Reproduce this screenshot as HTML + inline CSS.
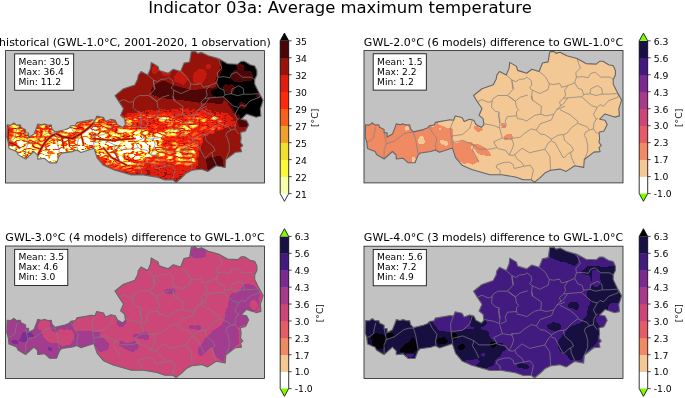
<!DOCTYPE html>
<html><head><meta charset="utf-8"><title>Indicator 03a</title>
<style>html,body{margin:0;padding:0;background:#fff;}svg{display:block}</style>
</head><body>
<svg width="685" height="398" viewBox="0 0 685 398" font-family="'DejaVu Sans','Liberation Sans',sans-serif" fill="#000">
<defs>
<path id="aut" d="M1.6 74.3 L5.3 74.6 L8.4 72.3 L11.1 74.6 L14.8 74.3 L15.6 76.8 L20.1 79.1 L20.1 82.1 L23.1 82.4 L23.1 86.6 L28.4 83.6 L31.4 76.1 L32.2 73.4 L36.0 74.3 L39.0 73.4 L42.7 74.6 L45.7 74.3 L46.5 78.3 L49.5 81.4 L59.3 79.1 L63.8 77.3 L65.3 75.3 L69.9 74.6 L71.4 71.9 L86.0 69.3 L89.5 69.8 L91.2 65.5 L98.0 67.0 L100.2 70.9 L105.5 68.7 L109.8 69.8 L112.0 74.1 L117.3 76.9 L119.9 74.1 L119.1 68.2 L115.1 64.8 L118.0 58.0 L113.4 51.2 L109.5 45.0 L118.0 38.2 L129.3 34.3 L132.2 28.5 L132.7 24.9 L135.5 21.0 L142.3 24.4 L145.1 17.6 L145.7 11.9 L152.5 15.9 L153.6 19.9 L162.7 22.7 L167.8 18.7 L175.1 21.0 L178.5 12.5 L184.1 11.4 L185.8 1.2 L189.8 0.9 L192.1 2.9 L196.0 1.8 L202.8 5.2 L213.0 8.0 L222.0 13.1 L232.2 13.6 L235.6 10.8 L239.0 10.8 L244.6 14.2 L249.2 15.3 L251.4 19.9 L251.4 24.4 L249.2 28.9 L249.2 33.4 L252.5 40.2 L254.8 44.5 L257.6 49.6 L256.0 54.7 L254.8 58.1 L255.4 65.4 L250.6 66.6 L241.0 63.4 L235.7 68.7 L241.0 69.8 L243.2 74.1 L240.0 80.5 L235.0 81.8 L235.6 87.5 L235.0 92.0 L237.3 94.9 L235.0 97.1 L236.1 101.1 L229.9 101.6 L220.3 109.0 L219.7 116.9 L210.7 115.2 L202.2 120.9 L196.0 118.6 L186.4 119.7 L180.8 122.6 L176.2 127.1 L170.6 131.6 L167.2 129.3 L159.3 129.3 L151.4 126.5 L137.8 124.3 L125.9 124.3 L107.7 119.0 L98.0 114.7 L91.6 107.2 L88.4 97.6 L75.5 101.8 L71.4 99.5 L66.9 101.0 L56.3 102.5 L54.0 104.7 L51.0 112.3 L44.2 112.3 L39.0 107.7 L32.2 108.5 L32.2 104.7 L28.4 101.0 L20.1 108.5 L12.6 104.0 L11.1 101.0 L3.5 97.9 L2.8 91.9 L1.3 86.6 Z"/>
<path id="dl" d="M11.8 76.8 L10.3 82.1 L9.6 87.4 L5.8 90.4 L2.8 91.2 M20.1 82.1 L22.4 93.4 L20.1 98.7 L20.1 107.7 M22.4 93.4 L30.7 90.4 L39.7 83.6 L44.2 82.1 L49.5 81.8 M49.5 81.8 L51.8 89.7 L54.0 103.2 M65.3 76.1 L68.4 82.1 L72.9 88.1 L71.4 95.7 L72.1 99.5 M89.5 69.8 L86.5 77.5 L87.1 85.6 L88.8 97.1 M87.1 85.6 L98.6 84.0 L105.9 77.5 L108.4 69.3 M88.8 92.2 L98.6 89.7 L110.0 94.6 L114.9 98.7 L126.3 98.7 L132.9 97.1 L134.4 98.2 L141.7 99.9 L145.1 104.5 M110.0 94.6 L108.4 99.5 L112.0 105.5 L114.9 111.8 M120.6 73.4 L129.6 75.0 L135.5 77.3 L138.3 87.5 L129.6 91.4 L132.9 97.1 M135.5 62.3 L134.4 64.9 L136.1 70.5 L135.5 77.3 M138.3 87.5 L147.6 88.9 L149.1 87.5 M144.6 45.6 L151.4 50.7 L156.4 46.7 L163.8 44.5 M151.4 50.7 L152.5 56.9 L154.7 59.2 L152.5 61.5 L152.5 65.4 L153.6 68.2 L158.1 68.8 L162.7 70.5 L170.6 64.9 L176.8 63.7 M167.2 45.6 L168.3 49.6 L177.4 55.8 L176.8 63.7 M176.8 63.7 L181.9 65.4 L189.8 63.7 L192.6 59.2 L201.0 55.8 M189.8 63.7 L187.5 69.4 L176.2 73.3 L172.3 79.6 L167.2 78.4 L160.4 82.9 L155.9 86.9 L149.1 87.5 L147.4 87.5 L149.7 93.7 L148.0 98.8 L145.1 104.5 M172.3 79.6 L176.2 83.5 L180.8 84.1 L187.5 88.6 L194.3 84.6 L199.4 84.1 M152.5 65.4 L143.4 66.0 L141.2 70.5 L142.3 75.0 L137.0 77.5 M195.5 51.3 L196.6 55.2 L192.6 59.2 M195.5 51.3 L199.4 47.9 L203.9 47.3 L217.5 46.2 L219.7 44.5 M203.9 47.3 L199.4 53.5 L196.0 55.8 M217.5 46.2 L227.7 55.2 L233.3 56.9 L236.1 54.1 L239.5 55.8 L244.6 50.2 L253.7 46.8 L254.8 44.5 L252.5 43.0 M233.3 56.9 L229.4 63.7 L232.2 68.8 L233.9 67.7 M232.2 68.8 L229.9 72.8 L229.4 78.4 L233.3 83.5 M196.0 59.2 L206.2 64.3 L214.1 71.1 L213.5 72.8 L223.1 76.2 L225.4 79.6 L229.4 78.4 M213.5 72.8 L207.3 77.3 L202.8 82.9 L199.4 84.1 L200.5 89.5 L202.8 92.0 L207.3 95.4 L209.6 99.9 L206.7 101.6 L207.3 106.7 L210.7 114.1 M225.4 79.6 L221.4 81.8 L220.3 85.2 L222.0 87.5 L223.7 94.3 L223.7 101.1 L220.3 109.0 M145.1 104.5 L149.1 105.0 L150.8 103.9 L158.1 97.7 L165.5 102.2 L180.8 98.8 L184.1 92.6 L187.5 89.8 L187.5 88.6 M150.8 103.9 L152.5 107.9 L158.1 112.4 L159.8 115.8 L150.2 118.0 L149.1 114.1 L145.7 111.8 L140.6 111.8 L133.3 114.1 L132.1 116.9 L136.1 119.7 L136.1 123.7 M159.8 115.8 L166.1 114.6 L169.4 119.2 L168.3 124.8 L167.2 129.3 M180.8 98.8 L185.8 105.6 L186.4 114.6 L186.4 119.7 M187.5 90.9 L190.9 92.0 L198.9 106.7 L200.0 107.3 L203.9 103.3 L206.7 101.6 M142.3 24.4 L148.0 29.5 L148.5 37.9 L149.6 38.2 M148.0 29.5 L151.9 31.2 L155.3 28.9 L161.0 28.3 L162.7 26.6 L167.2 30.0 L167.8 34.6 L165.5 37.4 L168.3 39.6 L167.7 45.0 L168.9 50.1 M168.3 39.6 L175.7 43.0 L184.1 39.1 L185.3 33.4 L181.3 26.1 L175.1 21.0 M185.3 33.4 L189.8 34.0 L195.5 32.9 L197.7 36.8 L203.9 35.1 M213.0 8.0 L214.7 13.1 L216.4 17.6 L211.8 22.1 L212.4 26.6 L210.7 32.3 L203.9 35.1 M212.4 26.6 L218.6 26.1 L224.3 27.2 L226.5 23.2 L231.1 21.6 L236.7 26.6 L245.8 26.6 L249.2 28.9 M210.7 32.3 L214.1 37.9 L218.1 39.1 L219.7 44.5 M203.9 35.1 L200.5 40.2 L201.7 44.5 L199.4 47.9 M219.7 43.9 L226.0 43.3 L226.5 38.5 L233.3 35.1 L237.8 37.9 L238.4 43.6 L245.8 43.6 L252.5 43.0 M226.0 43.3 L232.0 45.0 L238.4 43.6 M113.4 51.2 L118.0 49.0 L124.2 51.8 L128.1 50.7 M128.1 50.7 L129.3 47.9 L133.8 45.0 L143.4 45.0 L149.6 38.2 L147.9 30.9 L148.0 29.5 M128.1 50.7 L127.6 56.9 L131.5 60.9 L134.9 61.5 L134.9 64.8 L135.5 72.5 M143.4 45.0 L151.4 50.7"/>
<clipPath id="autc"><use href="#aut"/></clipPath>
<filter id="terr" x="0" y="0" width="100%" height="100%" filterUnits="objectBoundingBox" color-interpolation-filters="sRGB">
<feGaussianBlur in="SourceGraphic" stdDeviation="1.8" result="base"/>
<feComponentTransfer in="base" result="c2"><feFuncR type="linear" slope="1" intercept="-0.25"/><feFuncG type="linear" slope="1" intercept="-0.25"/><feFuncB type="linear" slope="1" intercept="-0.25"/></feComponentTransfer>
<feTurbulence type="turbulence" baseFrequency="0.12 0.24" numOctaves="2" seed="7" result="t"/>
<feColorMatrix in="t" type="matrix" values="1 0 0 0 0  1 0 0 0 0  1 0 0 0 0  0 0 0 0 1" result="n"/>
<feComposite in="c2" in2="n" operator="arithmetic" k1="4.2" k2="-1.092" k3="0" k4="0.5" result="d"/>
<feComposite in="base" in2="d" operator="arithmetic" k1="0" k2="1" k3="1" k4="-0.5" result="f"/>
<feComponentTransfer in="f">
<feFuncR type="discrete" tableValues="0.000 0.310 0.588 0.878 1.000 0.969 0.941 0.937 0.973 0.969 1.000"/>
<feFuncG type="discrete" tableValues="0.000 0.024 0.078 0.118 0.165 0.376 0.627 0.878 0.973 0.992 1.000"/>
<feFuncB type="discrete" tableValues="0.000 0.024 0.047 0.063 0.047 0.102 0.173 0.188 0.235 0.667 1.000"/>
</feComponentTransfer>
</filter>
<filter id="blob" x="-5%" y="-5%" width="110%" height="110%" color-interpolation-filters="sRGB">
<feTurbulence type="fractalNoise" baseFrequency="0.12" numOctaves="2" seed="3" result="t"/>
<feDisplacementMap in="SourceGraphic" in2="t" scale="5" xChannelSelector="R" yChannelSelector="G" result="d"/>
<feGaussianBlur in="d" stdDeviation="0.9" result="b"/>
<feComponentTransfer in="b"><feFuncA type="discrete" tableValues="0 1"/></feComponentTransfer>
</filter>
</defs>
<rect width="685" height="398" fill="#fff"/>
<text x="340" y="12.9" text-anchor="middle" font-size="16.45">Indicator 03a: Average maximum temperature</text>
<g transform="translate(5.5 50.6)">
<rect x="0" y="0" width="259.0" height="132.4" fill="#c2c2c2"/>
<g clip-path="url(#autc)"><g filter="url(#terr)" transform="translate(-5.5 -50.6)"><rect x="0" y="40" width="275" height="150" fill="#000"/><rect x="0" y="40" width="275" height="150" fill="#3a3a3a"/>
<path d="M152 86 L163 80 L176 86 L192 90 L210 88 L222 92 L224 104 L200 103 L180 100 L160 98 L150 94 Z" fill="#232323" />
<path d="M220 56 L221 70 L216 80 L218 87 L210 90 L212 96 L225 98 L232 108 L235 114 L243 120 L250 124 L270 122 L270 50 L219 50 Z" fill="#0c0c0c" />
<path d="M236 118 L252 118 L254 130 L240 130 Z" fill="#1a1a1a" />
<path d="M100 118 L118 116 L130 112 L150 110 L175 108 L205 108 L228 113 L238 124 L224 134 L208 138 L202 150 L198 166 L180 176 L150 178 L120 172 L90 168 L100 140 Z" fill="#4c4c4c" />
<path d="M100 122 L120 121 L135 118 L160 115 L190 114 L214 117 L228 124 L214 132 L202 137 L198 150 L192 164 L172 170 L150 168 L128 168 L100 166 Z" fill="#6b6b6b" />
<path d="M0 118 L60 118 L100 116 L118 120 L130 126 L150 130 L150 160 L120 164 L100 160 L60 172 L0 166 Z" fill="#8d8d8d" />
<path d="M14 118 L100 116 L94 122 L88.5 128 L81 133.7 L72.4 138.5 L62 136.6 L56 133.7 L50.5 136.6 L45.8 141.3 L40 141 L30 136 L20 132 L14 130 Z" fill="#898989" />
<path d="M44 124 L60 121 L78 123 L70 130 L52 132 Z" fill="#b9b9b9" />
<path d="M20 124 L34 124 L38 132 L26 134 Z" fill="#a9a9a9" />
<path d="M38 154.6 L42 147 L45.8 141.3 L50.5 136.6 L56 133.7 L62 136.6 L72.4 138.5 L81 133.7 L88.5 128 L94 126 L100 128 L104 140 L100 150 L90 150 L80 152 L66 168 L40 168 L30 160 Z" fill="#d3d3d3" />
<path d="M24 152 L40 150 L50 146 L58 150 L60 164 L40 166 L26 160 Z" fill="#f3f3f3" />
<path d="M60 142 L80 141 L92 138 L96 146 L80 150 L64 150 Z" fill="#eaeaea" />
<path d="M4 122 L12 122 L14 140 L8 146 L4 140 Z" fill="#686868" />
<path d="M14 140 L24 140 L34 146 L38 154 L30 160 L22 160 L12 152 Z" fill="#cacaca" />
<path d="M94 122 L118 120 L135 124 L150 128 L150 138 L120 138 L100 138 Z" fill="#8d8d8d" />
<path d="M96 140 L112 139 L128 138 L146 136 L160 136 L162 146 L154 154 L140 160 L128 164 L112 162 L100 156 L94 148 Z" fill="#f1f1f1" />
<path d="M108 164 L128 166 L142 162 L152 158 L152 172 L128 172 L112 168 Z" fill="#727272" />
<path d="M122 121 L141 116 L163 118.5 L184 123 L205 119 L220 117" fill="none" stroke="#a9a9a9" stroke-width="3" stroke-linecap="round" stroke-linejoin="round"/>
<path d="M120 133 L141 135.5 L163 134.5 L180 131 L195 127" fill="none" stroke="#b2b2b2" stroke-width="3" stroke-linecap="round" stroke-linejoin="round"/>
<path d="M175.5 144 L178 152 L180 161" fill="none" stroke="#b9b9b9" stroke-width="3" stroke-linecap="round" stroke-linejoin="round"/>
<path d="M190 142 L192 152 L192.6 163" fill="none" stroke="#a2a2a2" stroke-width="3" stroke-linecap="round" stroke-linejoin="round"/>
<path d="M150 150 L160 154 L170 158" fill="none" stroke="#a2a2a2" stroke-width="4" stroke-linecap="round" stroke-linejoin="round"/>
<path d="M204 136 L226 128 L250 126 L250 150 L240 166 L226 172 L202 172 L198 158 Z" fill="#3a3a3a" />
<path d="M206 158 L222 156 L224 170 L208 172 Z" fill="#1e1e1e" />
<path d="M226 132 L246 128 L246 140 L228 142 Z" fill="#2e2e2e" />
<path d="M140 168 L160 163 L185 165 L200 170 L196 182 L160 182 L138 176 Z" fill="#4c4c4c" />
<path d="M100 150 L115 153 L130 159 L150 165" fill="none" stroke="#5d5d5d" stroke-width="2.5" stroke-linecap="round" stroke-linejoin="round"/>
<path d="M104 132 L120 128 L135 126 L150 125 L165 127 L180 127" fill="none" stroke="#585858" stroke-width="2.5" stroke-linecap="round" stroke-linejoin="round"/>
<path d="M150 143 L165 142 L180 139 L195 135 L210 130" fill="none" stroke="#515151" stroke-width="2.5" stroke-linecap="round" stroke-linejoin="round"/></g><g transform="translate(-5.5 -50.6)"><path d="M94.2 122.3 L88.5 128 L80.9 133.7 L72.4 138.5 L61.9 136.6 L56.2 133.7 L50.5 136.6 L45.8 141.3 L42 147 L38.2 154.6" fill="none" stroke="#f7601a" stroke-width="3.6" stroke-linecap="round" stroke-linejoin="round" opacity="0.45"/>
<path d="M8.8 129 L7.8 141.3" fill="none" stroke="#f7601a" stroke-width="2.8800000000000003" stroke-linecap="round" stroke-linejoin="round" opacity="0.45"/>
<path d="M8.8 142.3 L16.4 145.1 L19.2 148" fill="none" stroke="#f7601a" stroke-width="2.8800000000000003" stroke-linecap="round" stroke-linejoin="round" opacity="0.45"/>
<path d="M61.9 137.5 L63.8 148" fill="none" stroke="#f7601a" stroke-width="2.16" stroke-linecap="round" stroke-linejoin="round" opacity="0.45"/>
<path d="M68.6 138.5 L69.5 146" fill="none" stroke="#f7601a" stroke-width="2.16" stroke-linecap="round" stroke-linejoin="round" opacity="0.45"/>
<path d="M80.9 133.7 L83.7 145.1" fill="none" stroke="#f7601a" stroke-width="2.16" stroke-linecap="round" stroke-linejoin="round" opacity="0.45"/>
<path d="M103.7 148 L111.3 157.4 L126.4 165" fill="none" stroke="#f7601a" stroke-width="2.8800000000000003" stroke-linecap="round" stroke-linejoin="round" opacity="0.45"/>
<path d="M114 150.8 L118.9 160.3" fill="none" stroke="#f7601a" stroke-width="2.16" stroke-linecap="round" stroke-linejoin="round" opacity="0.45"/>
<path d="M93.2 138.5 L111.3 140.4 L135 138.5" fill="none" stroke="#f7601a" stroke-width="2.52" stroke-linecap="round" stroke-linejoin="round" opacity="0.45"/>
<path d="M94.2 122.3 L88.5 128 L80.9 133.7 L72.4 138.5 L61.9 136.6 L56.2 133.7 L50.5 136.6 L45.8 141.3 L42 147 L38.2 154.6" fill="none" stroke="#e01e10" stroke-width="2.2" stroke-linecap="round" stroke-linejoin="round" opacity="0.85"/>
<path d="M8.8 129 L7.8 141.3" fill="none" stroke="#e01e10" stroke-width="1.7600000000000002" stroke-linecap="round" stroke-linejoin="round" opacity="0.85"/>
<path d="M8.8 142.3 L16.4 145.1 L19.2 148" fill="none" stroke="#e01e10" stroke-width="1.7600000000000002" stroke-linecap="round" stroke-linejoin="round" opacity="0.85"/>
<path d="M61.9 137.5 L63.8 148" fill="none" stroke="#e01e10" stroke-width="1.32" stroke-linecap="round" stroke-linejoin="round" opacity="0.85"/>
<path d="M68.6 138.5 L69.5 146" fill="none" stroke="#e01e10" stroke-width="1.32" stroke-linecap="round" stroke-linejoin="round" opacity="0.85"/>
<path d="M80.9 133.7 L83.7 145.1" fill="none" stroke="#e01e10" stroke-width="1.32" stroke-linecap="round" stroke-linejoin="round" opacity="0.85"/>
<path d="M103.7 148 L111.3 157.4 L126.4 165" fill="none" stroke="#e01e10" stroke-width="1.7600000000000002" stroke-linecap="round" stroke-linejoin="round" opacity="0.85"/>
<path d="M114 150.8 L118.9 160.3" fill="none" stroke="#e01e10" stroke-width="1.32" stroke-linecap="round" stroke-linejoin="round" opacity="0.85"/>
<path d="M93.2 138.5 L111.3 140.4 L135 138.5" fill="none" stroke="#e01e10" stroke-width="1.54" stroke-linecap="round" stroke-linejoin="round" opacity="0.85"/>
<path d="M94.2 122.3 L88.5 128 L80.9 133.7 L72.4 138.5 L61.9 136.6 L56.2 133.7 L50.5 136.6 L45.8 141.3 L42 147 L38.2 154.6" fill="none" stroke="#7a0e08" stroke-width="1.1" stroke-linecap="round" stroke-linejoin="round" opacity="1"/>
<path d="M8.8 129 L7.8 141.3" fill="none" stroke="#7a0e08" stroke-width="0.8800000000000001" stroke-linecap="round" stroke-linejoin="round" opacity="1"/>
<path d="M8.8 142.3 L16.4 145.1 L19.2 148" fill="none" stroke="#7a0e08" stroke-width="0.8800000000000001" stroke-linecap="round" stroke-linejoin="round" opacity="1"/>
<path d="M61.9 137.5 L63.8 148" fill="none" stroke="#7a0e08" stroke-width="0.66" stroke-linecap="round" stroke-linejoin="round" opacity="1"/>
<path d="M68.6 138.5 L69.5 146" fill="none" stroke="#7a0e08" stroke-width="0.66" stroke-linecap="round" stroke-linejoin="round" opacity="1"/>
<path d="M80.9 133.7 L83.7 145.1" fill="none" stroke="#7a0e08" stroke-width="0.66" stroke-linecap="round" stroke-linejoin="round" opacity="1"/>
<path d="M103.7 148 L111.3 157.4 L126.4 165" fill="none" stroke="#7a0e08" stroke-width="0.8800000000000001" stroke-linecap="round" stroke-linejoin="round" opacity="1"/>
<path d="M114 150.8 L118.9 160.3" fill="none" stroke="#7a0e08" stroke-width="0.66" stroke-linecap="round" stroke-linejoin="round" opacity="1"/>
<path d="M93.2 138.5 L111.3 140.4 L135 138.5" fill="none" stroke="#7a0e08" stroke-width="0.77" stroke-linecap="round" stroke-linejoin="round" opacity="1"/><g filter="url(#blob)"><path d="M196.9 70 L202.1 70 L206 73.9 L206 80.1 L202.1 84 L196.9 84 L193 80.1 L193 73.9 Z M177.6 72 L183.4 72 L187 75.6 L187 80.4 L183.4 84 L177.6 84 L174 80.4 L174 75.6 Z M152.9 66 L155.6 66 L157.5 68.0 L157.5 72.0 L155.6 74 L152.9 74 L151 72.0 L151 68.0 Z M160 70 L170 68 L172 74 L164 76 Z M206.8 64 L210.2 64 L212 65.8 L212 68.2 L210.2 70 L206.8 70 L205 68.2 L205 65.8 Z" fill="#c4190e"/></g><g filter="url(#blob)"><path d="M234.3 71 L249.7 71 L253 74.3 L253 78.7 L249.7 82 L234.3 82 L231 78.7 L231 74.3 Z M236.7 64.5 L243.3 64.5 L245 66.2 L245 68.3 L243.3 70 L236.7 70 L235 68.3 L235 66.2 Z M225.7 84 L232.3 84 L235 86.7 L235 90.3 L232.3 93 L225.7 93 L223 90.3 L223 86.7 Z M239.8 102 L245.2 102 L247 103.8 L247 106.2 L245.2 108 L239.8 108 L238 106.2 L238 103.8 Z M256.2 94 L259.8 94 L261 95.2 L261 96.8 L259.8 98 L256.2 98 L255 96.8 L255 95.2 Z" fill="#4f0606"/></g></g></g>
<use href="#dl" fill="none" stroke="#808080" stroke-width="0.7" stroke-linejoin="round"/>
<use href="#aut" fill="none" stroke="#666" stroke-width="1.1" stroke-linejoin="round"/>
<rect x="0" y="0" width="259.0" height="132.4" fill="none" stroke="#222" stroke-width="0.8"/>
<rect x="9.2" y="3.3" width="59.0" height="36.3" fill="#fff" stroke="#000" stroke-width="0.8"/>
<text x="13.1" y="14.00" font-size="9.15">Mean: 30.5</text>
<text x="13.1" y="24.15" font-size="9.15">Max: 36.4</text>
<text x="13.1" y="34.30" font-size="9.15">Min: 11.2</text>
<text x="129.5" y="-4.9" text-anchor="middle" font-size="11.0">historical (GWL-1.0°C, 2001-2020, 1 observation)</text>
</g>
<g transform="translate(364.0 50.5)">
<rect x="0" y="0" width="259.0" height="132.4" fill="#c2c2c2"/>
<use href="#aut" fill="#f3c895"/><g clip-path="url(#autc)"><g transform="translate(-364.0 -50.5)" filter="url(#blob)"><path d="M360 115 L436 118 L437 126 L440 132 L445 136 L450 140 L452 150 L440 156 L418 170 L360 170 Z M434 118 L440 121 L447 127 L452 128 L453 150 L440 154 L434 150 Z M452.5 148.5 L459.3 145.1 L467.5 145.9 L472.4 150.8 L477.3 159 L478.9 162.3 L472.4 163.9 L465.8 162.3 L464.2 166 L460.1 163 L455 157 Z M474 143.5 L480.5 145.1 L487 150 L492 154.9 L488.7 156.6 L482.2 154.9 L477.3 152.5 L474 148.4 Z M452 144.5 L462.6 141 L470.7 142.7 L475 146 L470 147 L462 144.5 L453 147.5 Z M473.2 125.5 L477.3 126.3 L482.2 128 L484.6 127.2 L483.8 130.4 L478.9 132 L474.8 129.6 Z M501.8 123.9 L505.9 123.1 L506.7 127.2 L503.4 128.3 L501 126.3 Z M501.8 137.8 L510 132.9 L513.2 134.5 L511.6 137.8 L505 140.2 Z" fill="#f08a62"/></g><g transform="translate(-364.0 -50.5)" filter="url(#blob)"><path d="M405.3 125.8 L407.4 125.8 L409 127.4 L409 129.5 L407.4 131.1 L405.3 131.1 L403.7 129.5 L403.7 127.4 Z M420.0 136.4 L422.8 136.4 L424.8 138.4 L424.8 141.9 L422.8 143.9 L420.0 143.9 L418 141.9 L418 138.4 Z M412.9 139.4 L414.1 139.4 L415 140.3 L415 141.5 L414.1 142.4 L412.9 142.4 L412 141.5 L412 140.3 Z M413.1 156 L414.4 156 L415.5 157.1 L415.5 161.4 L414.4 162.5 L413.1 162.5 L412 161.4 L412 157.1 Z M437 122 L446 120 L452 121 L452 127 L447 128 L443 126 L439 125 Z M441.1 139 L443.4 139 L445 140.7 L445 144.3 L443.4 146 L441.1 146 L439.5 144.3 L439.5 140.7 Z M438.4 127 L439.6 127 L440.5 127.9 L440.5 130.1 L439.6 131 L438.4 131 L437.5 130.1 L437.5 127.9 Z M446.4 141 L447.6 141 L448.5 141.9 L448.5 146.1 L447.6 147 L446.4 147 L445.5 146.1 L445.5 141.9 Z M431.9 124 L433.1 124 L434 124.9 L434 126.1 L433.1 127 L431.9 127 L431 126.1 L431 124.9 Z" fill="#f3c895"/></g></g>
<use href="#dl" fill="none" stroke="#808080" stroke-width="0.7" stroke-linejoin="round"/>
<use href="#aut" fill="none" stroke="#666" stroke-width="1.1" stroke-linejoin="round"/>
<rect x="0" y="0" width="259.0" height="132.4" fill="none" stroke="#222" stroke-width="0.8"/>
<rect x="9.2" y="3.3" width="53.1" height="36.3" fill="#fff" stroke="#000" stroke-width="0.8"/>
<text x="13.1" y="14.00" font-size="9.15">Mean: 1.5</text>
<text x="13.1" y="24.15" font-size="9.15">Max: 2.2</text>
<text x="13.1" y="34.30" font-size="9.15">Min: 1.2</text>
<text x="129.5" y="-4.9" text-anchor="middle" font-size="11.0">GWL-2.0°C (6 models) difference to GWL-1.0°C</text>
</g>
<g transform="translate(5.5 246.0)">
<rect x="0" y="0" width="259.0" height="132.4" fill="#c2c2c2"/>
<use href="#aut" fill="#cc4778"/><g clip-path="url(#autc)"><g transform="translate(-5.5 -246.0)" filter="url(#blob)"><path d="M0 310 L72 312 L74 330 L92 331 L100.4 332 L100.4 339 L92 346 L80 350 L60 365 L0 365 Z M94.4 340 L104 339 L108.5 343 L108.5 350 L104 353 L97 352 Z M118.5 319.5 L123.5 319.5 L125.5 321.4 L125.5 324.1 L123.5 326 L118.5 326 L116.5 324.1 L116.5 321.4 Z M118.5 341 L126 343 L135 341 L137 346 L128 350 L119 347 Z M193.3 247.3 L203.3 247.3 L206.6 250.6 L206.6 254.9 L203.3 258.2 L193.3 258.2 L190 254.9 L190 250.6 Z M228.4 294.7 L239.4 291 L246.7 283.7 L255.8 285.6 L261.2 294.7 L257.6 311.1 L250.3 312.9 L246.7 323.8 L239.4 327.5 L239.4 342.1 L228.4 353 L221.1 362.1 L215.7 356.7 L213.9 345.7 L208.4 349.4 L199.3 356.7 L197.4 347.5 L208.4 334.8 L221.1 323.8 L226.6 312.9 Z M165.9 289.2 L174.3 289.2 L175.6 290.5 L175.6 292.3 L174.3 293.6 L165.9 293.6 L164.6 292.3 L164.6 290.5 Z M191.4 324.6 L199.6 324.6 L201 326.0 L201 327.9 L199.6 329.3 L191.4 329.3 L190 327.9 L190 326.0 Z M135.4 333 L148.2 333 L150 334.8 L150 337.2 L148.2 339 L135.4 339 L133.6 337.2 L133.6 334.8 Z M130.1 344 L136.9 344 L139 346.1 L139 348.9 L136.9 351 L130.1 351 L128 348.9 L128 346.1 Z" fill="#a13c8f"/></g><g transform="translate(-5.5 -246.0)" filter="url(#blob)"><path d="M40.0 320 L47.0 320 L50 323.0 L50 327.0 L47.0 330 L40.0 330 L37 327.0 L37 323.0 Z M41 331 L52 329 L58 334 L58 343 L50 343 L44 338 Z M58 330 L72 330 L74 340 L70 346 L60 346 L58 340 Z M252.5 300 L255.4 300 L257.6 302.2 L257.6 307.8 L255.4 310 L252.5 310 L250.3 307.8 L250.3 302.2 Z" fill="#cc4778"/></g><g transform="translate(-5.5 -246.0)" filter="url(#blob)"><path d="M22.4 332 L25.6 332 L28 334.4 L28 339.6 L25.6 342 L22.4 342 L20 339.6 L20 334.4 Z M12.7 339.5 L18.4 339.5 L20 341.1 L20 343.4 L18.4 345 L12.7 345 L11 343.4 L11 341.1 Z M29.5 333 L31.5 333 L33 334.5 L33 336.5 L31.5 338 L29.5 338 L28 336.5 L28 334.5 Z M48.0 347 L52.0 347 L53 348.1 L53 349.4 L52.0 350.5 L48.0 350.5 L47 349.4 L47 348.1 Z" fill="#7b2d96"/></g></g>
<use href="#dl" fill="none" stroke="#808080" stroke-width="0.7" stroke-linejoin="round"/>
<use href="#aut" fill="none" stroke="#666" stroke-width="1.1" stroke-linejoin="round"/>
<rect x="0" y="0" width="259.0" height="132.4" fill="none" stroke="#222" stroke-width="0.8"/>
<rect x="9.2" y="3.3" width="53.1" height="36.3" fill="#fff" stroke="#000" stroke-width="0.8"/>
<text x="13.1" y="14.00" font-size="9.15">Mean: 3.5</text>
<text x="13.1" y="24.15" font-size="9.15">Max: 4.6</text>
<text x="13.1" y="34.30" font-size="9.15">Min: 3.0</text>
<text x="129.5" y="-4.9" text-anchor="middle" font-size="11.0">GWL-3.0°C (4 models) difference to GWL-1.0°C</text>
</g>
<g transform="translate(364.0 246.2)">
<rect x="0" y="0" width="259.0" height="132.4" fill="#c2c2c2"/>
<use href="#aut" fill="#431a80"/><g clip-path="url(#autc)"><g transform="translate(-364.0 -246.2)" filter="url(#blob)"><path d="M360 310 L430 312 L432 322 L440 330 L452 332 L470 330 L478 328 L488 330 L488 338.4 L503 343.9 L506.4 349.3 L499 356.6 L492 366 L470 372 L360 372 Z M475.9 319 L484.1 319 L486.5 321.4 L486.5 324.6 L484.1 327 L475.9 327 L473.5 324.6 L473.5 321.4 Z M470 313 L481 315 L481 327 L470 327 Z M549 246 L556 246 L565.7 251 L575.7 254.6 L579.3 262 L574 267 L565 262 L555.6 260 L550 258 Z M579.3 271 L590 265.5 L605 267 L614 265.5 L625 280 L625 304 L610 302 L606.7 311 L595.7 316.5 L595.7 322 L601 327.5 L597.5 342 L590 349.3 L579.3 360.3 L570 360.3 L566.6 353 L559.3 351 L557.5 342 L563 334.7 L572 325.6 L579.3 323.8 L586.6 314.7 L590 300 L586.6 291 L592 283.7 L590 276.4 Z M570.1 302 L576.9 302 L579 304.1 L579 306.9 L576.9 309 L570.1 309 L568 306.9 L568 304.1 Z M550.7 322 L558.3 322 L561 324.7 L561 328.3 L558.3 331 L550.7 331 L548 328.3 L548 324.7 Z M518.5 364 L526.5 364 L528 365.5 L528 367.5 L526.5 369 L518.5 369 L517 367.5 L517 365.5 Z" fill="#170f40"/></g><g transform="translate(-364.0 -246.2)" filter="url(#blob)"><path d="M406.4 353 L412.6 353 L414 354.4 L414 356.1 L412.6 357.5 L406.4 357.5 L405 356.1 L405 354.4 Z M465.8 360 L478.2 360 L480 361.8 L480 364.2 L478.2 366 L465.8 366 L464 364.2 L464 361.8 Z M481.1 353 L483.9 353 L485 354.1 L485 355.4 L483.9 356.5 L481.1 356.5 L480 355.4 L480 354.1 Z M594.4 270 L597.6 270 L600 272.4 L600 283.6 L597.6 286 L594.4 286 L592 283.6 L592 272.4 Z" fill="#431a80"/></g><g transform="translate(-364.0 -246.2)" filter="url(#blob)"><path d="M375.5 333 L381.5 333 L386 337.5 L386 345.5 L381.5 350 L375.5 350 L371 345.5 L371 337.5 Z M387.5 333 L392.5 333 L394 334.5 L394 336.5 L392.5 338 L387.5 338 L386 336.5 L386 334.5 Z M414.2 337.2 L418.3 348.2 L414.2 352.2 L398.2 352.2 L403.2 346.2 Z M437.8 338 L446.2 338 L448 339.8 L448 342.2 L446.2 344 L437.8 344 L436 342.2 L436 339.8 Z M453.2 333 L455.6 333 L457.4 334.8 L457.4 337.2 L455.6 339 L453.2 339 L451.4 337.2 L451.4 334.8 Z M459.5 345 L462.5 345 L464 346.5 L464 348.5 L462.5 350 L459.5 350 L458 348.5 L458 346.5 Z M491.6 342 L495.4 342 L497 343.6 L497 345.9 L495.4 347.5 L491.6 347.5 L490 345.9 L490 343.6 Z" fill="#050308"/></g></g>
<use href="#dl" fill="none" stroke="#808080" stroke-width="0.7" stroke-linejoin="round"/>
<use href="#aut" fill="none" stroke="#666" stroke-width="1.1" stroke-linejoin="round"/>
<rect x="0" y="0" width="259.0" height="132.4" fill="none" stroke="#222" stroke-width="0.8"/>
<rect x="9.2" y="3.3" width="53.1" height="36.3" fill="#fff" stroke="#000" stroke-width="0.8"/>
<text x="13.1" y="14.00" font-size="9.15">Mean: 5.6</text>
<text x="13.1" y="24.15" font-size="9.15">Max: 7.2</text>
<text x="13.1" y="34.30" font-size="9.15">Min: 4.9</text>
<text x="129.5" y="-4.9" text-anchor="middle" font-size="11.0">GWL-4.0°C (3 models) difference to GWL-1.0°C</text>
</g>
<g><rect x="280.2" y="176.62" width="8.5" height="17.28" fill="#f7fdaa"/>
<rect x="280.2" y="159.64" width="8.5" height="17.28" fill="#f8f83c"/>
<rect x="280.2" y="142.67" width="8.5" height="17.28" fill="#efe030"/>
<rect x="280.2" y="125.69" width="8.5" height="17.28" fill="#f0a02c"/>
<rect x="280.2" y="108.71" width="8.5" height="17.28" fill="#f7601a"/>
<rect x="280.2" y="91.73" width="8.5" height="17.28" fill="#ff2a0c"/>
<rect x="280.2" y="74.76" width="8.5" height="17.28" fill="#e01e10"/>
<rect x="280.2" y="57.78" width="8.5" height="17.28" fill="#96140c"/>
<rect x="280.2" y="40.80" width="8.5" height="17.28" fill="#4a0606"/>
<path d="M280.2 40.8 L284.45 33.099999999999994 L288.7 40.8 Z" fill="#000000"/>
<path d="M280.2 193.6 L284.45 201.29999999999998 L288.7 193.6 Z" fill="#ffffff"/>
<path d="M280.2 40.8 L284.45 33.099999999999994 L288.7 40.8 L288.7 193.6 L284.45 201.29999999999998 L280.2 193.6 Z" fill="none" stroke="#000" stroke-width="0.8"/>
<path d="M288.7 193.60 h3" stroke="#000" stroke-width="0.7"/>
<text x="295.2" y="197.60" font-size="9.25">21</text>
<path d="M288.7 176.62 h3" stroke="#000" stroke-width="0.7"/>
<text x="295.2" y="180.62" font-size="9.25">22</text>
<path d="M288.7 159.64 h3" stroke="#000" stroke-width="0.7"/>
<text x="295.2" y="163.64" font-size="9.25">24</text>
<path d="M288.7 142.67 h3" stroke="#000" stroke-width="0.7"/>
<text x="295.2" y="146.67" font-size="9.25">25</text>
<path d="M288.7 125.69 h3" stroke="#000" stroke-width="0.7"/>
<text x="295.2" y="129.69" font-size="9.25">27</text>
<path d="M288.7 108.71 h3" stroke="#000" stroke-width="0.7"/>
<text x="295.2" y="112.71" font-size="9.25">29</text>
<path d="M288.7 91.73 h3" stroke="#000" stroke-width="0.7"/>
<text x="295.2" y="95.73" font-size="9.25">30</text>
<path d="M288.7 74.76 h3" stroke="#000" stroke-width="0.7"/>
<text x="295.2" y="78.76" font-size="9.25">32</text>
<path d="M288.7 57.78 h3" stroke="#000" stroke-width="0.7"/>
<text x="295.2" y="61.78" font-size="9.25">34</text>
<path d="M288.7 40.80 h3" stroke="#000" stroke-width="0.7"/>
<text x="295.2" y="44.80" font-size="9.25">35</text>
<text transform="translate(317.5 117.89999999999999) rotate(-90)" text-anchor="middle" font-size="9.25">[°C]</text></g>
<g transform="translate(359 0)"><rect x="280.2" y="176.62" width="8.5" height="17.28" fill="#ffffff"/>
<rect x="280.2" y="159.64" width="8.5" height="17.28" fill="#f3c895"/>
<rect x="280.2" y="142.67" width="8.5" height="17.28" fill="#f08a62"/>
<rect x="280.2" y="125.69" width="8.5" height="17.28" fill="#e55c66"/>
<rect x="280.2" y="108.71" width="8.5" height="17.28" fill="#cc4778"/>
<rect x="280.2" y="91.73" width="8.5" height="17.28" fill="#a83a8c"/>
<rect x="280.2" y="74.76" width="8.5" height="17.28" fill="#7a2a90"/>
<rect x="280.2" y="57.78" width="8.5" height="17.28" fill="#431a80"/>
<rect x="280.2" y="40.80" width="8.5" height="17.28" fill="#1a1046"/>
<path d="M280.2 40.8 L284.45 33.099999999999994 L288.7 40.8 Z" fill="#7cfc00"/>
<path d="M280.2 193.6 L284.45 201.29999999999998 L288.7 193.6 Z" fill="#7cfc00"/>
<path d="M280.2 40.8 L284.45 33.099999999999994 L288.7 40.8 L288.7 193.6 L284.45 201.29999999999998 L280.2 193.6 Z" fill="none" stroke="#000" stroke-width="0.8"/>
<path d="M288.7 193.60 h3" stroke="#000" stroke-width="0.7"/>
<text x="294.7" y="197.40" font-size="9.25">-1.0</text>
<path d="M288.7 176.62 h3" stroke="#000" stroke-width="0.7"/>
<text x="294.7" y="180.42" font-size="9.25">1.0</text>
<path d="M288.7 159.64 h3" stroke="#000" stroke-width="0.7"/>
<text x="294.7" y="163.44" font-size="9.25">1.7</text>
<path d="M288.7 142.67 h3" stroke="#000" stroke-width="0.7"/>
<text x="294.7" y="146.47" font-size="9.25">2.3</text>
<path d="M288.7 125.69 h3" stroke="#000" stroke-width="0.7"/>
<text x="294.7" y="129.49" font-size="9.25">3.0</text>
<path d="M288.7 108.71 h3" stroke="#000" stroke-width="0.7"/>
<text x="294.7" y="112.51" font-size="9.25">3.6</text>
<path d="M288.7 91.73 h3" stroke="#000" stroke-width="0.7"/>
<text x="294.7" y="95.53" font-size="9.25">4.3</text>
<path d="M288.7 74.76 h3" stroke="#000" stroke-width="0.7"/>
<text x="294.7" y="78.56" font-size="9.25">4.9</text>
<path d="M288.7 57.78 h3" stroke="#000" stroke-width="0.7"/>
<text x="294.7" y="61.58" font-size="9.25">5.6</text>
<path d="M288.7 40.80 h3" stroke="#000" stroke-width="0.7"/>
<text x="294.7" y="44.60" font-size="9.25">6.3</text>
<text transform="translate(323.4 117.89999999999999) rotate(-90)" text-anchor="middle" font-size="9.25">[°C]</text></g>
<g transform="translate(0 195.6)"><rect x="280.2" y="176.09" width="8.5" height="17.21" fill="#ffffff"/>
<rect x="280.2" y="159.18" width="8.5" height="17.21" fill="#f3c895"/>
<rect x="280.2" y="142.27" width="8.5" height="17.21" fill="#f08a62"/>
<rect x="280.2" y="125.36" width="8.5" height="17.21" fill="#e55c66"/>
<rect x="280.2" y="108.44" width="8.5" height="17.21" fill="#cc4778"/>
<rect x="280.2" y="91.53" width="8.5" height="17.21" fill="#a83a8c"/>
<rect x="280.2" y="74.62" width="8.5" height="17.21" fill="#7a2a90"/>
<rect x="280.2" y="57.71" width="8.5" height="17.21" fill="#431a80"/>
<rect x="280.2" y="40.80" width="8.5" height="17.21" fill="#1a1046"/>
<path d="M280.2 40.8 L284.45 33.099999999999994 L288.7 40.8 Z" fill="#7cfc00"/>
<path d="M280.2 193.0 L284.45 200.7 L288.7 193.0 Z" fill="#7cfc00"/>
<path d="M280.2 40.8 L284.45 33.099999999999994 L288.7 40.8 L288.7 193.0 L284.45 200.7 L280.2 193.0 Z" fill="none" stroke="#000" stroke-width="0.8"/>
<path d="M288.7 193.00 h3" stroke="#000" stroke-width="0.7"/>
<text x="294.7" y="196.80" font-size="9.25">-1.0</text>
<path d="M288.7 176.09 h3" stroke="#000" stroke-width="0.7"/>
<text x="294.7" y="179.89" font-size="9.25">1.0</text>
<path d="M288.7 159.18 h3" stroke="#000" stroke-width="0.7"/>
<text x="294.7" y="162.98" font-size="9.25">1.7</text>
<path d="M288.7 142.27 h3" stroke="#000" stroke-width="0.7"/>
<text x="294.7" y="146.07" font-size="9.25">2.3</text>
<path d="M288.7 125.36 h3" stroke="#000" stroke-width="0.7"/>
<text x="294.7" y="129.16" font-size="9.25">3.0</text>
<path d="M288.7 108.44 h3" stroke="#000" stroke-width="0.7"/>
<text x="294.7" y="112.24" font-size="9.25">3.6</text>
<path d="M288.7 91.53 h3" stroke="#000" stroke-width="0.7"/>
<text x="294.7" y="95.33" font-size="9.25">4.3</text>
<path d="M288.7 74.62 h3" stroke="#000" stroke-width="0.7"/>
<text x="294.7" y="78.42" font-size="9.25">4.9</text>
<path d="M288.7 57.71 h3" stroke="#000" stroke-width="0.7"/>
<text x="294.7" y="61.51" font-size="9.25">5.6</text>
<path d="M288.7 40.80 h3" stroke="#000" stroke-width="0.7"/>
<text x="294.7" y="44.60" font-size="9.25">6.3</text>
<text transform="translate(323.4 117.60000000000001) rotate(-90)" text-anchor="middle" font-size="9.25">[°C]</text></g>
<g transform="translate(359 195.6)"><rect x="280.2" y="176.09" width="8.5" height="17.21" fill="#ffffff"/>
<rect x="280.2" y="159.18" width="8.5" height="17.21" fill="#f3c895"/>
<rect x="280.2" y="142.27" width="8.5" height="17.21" fill="#f08a62"/>
<rect x="280.2" y="125.36" width="8.5" height="17.21" fill="#e55c66"/>
<rect x="280.2" y="108.44" width="8.5" height="17.21" fill="#cc4778"/>
<rect x="280.2" y="91.53" width="8.5" height="17.21" fill="#a83a8c"/>
<rect x="280.2" y="74.62" width="8.5" height="17.21" fill="#7a2a90"/>
<rect x="280.2" y="57.71" width="8.5" height="17.21" fill="#431a80"/>
<rect x="280.2" y="40.80" width="8.5" height="17.21" fill="#1a1046"/>
<path d="M280.2 40.8 L284.45 33.099999999999994 L288.7 40.8 Z" fill="#000000"/>
<path d="M280.2 193.0 L284.45 200.7 L288.7 193.0 Z" fill="#7cfc00"/>
<path d="M280.2 40.8 L284.45 33.099999999999994 L288.7 40.8 L288.7 193.0 L284.45 200.7 L280.2 193.0 Z" fill="none" stroke="#000" stroke-width="0.8"/>
<path d="M288.7 193.00 h3" stroke="#000" stroke-width="0.7"/>
<text x="294.7" y="196.80" font-size="9.25">-1.0</text>
<path d="M288.7 176.09 h3" stroke="#000" stroke-width="0.7"/>
<text x="294.7" y="179.89" font-size="9.25">1.0</text>
<path d="M288.7 159.18 h3" stroke="#000" stroke-width="0.7"/>
<text x="294.7" y="162.98" font-size="9.25">1.7</text>
<path d="M288.7 142.27 h3" stroke="#000" stroke-width="0.7"/>
<text x="294.7" y="146.07" font-size="9.25">2.3</text>
<path d="M288.7 125.36 h3" stroke="#000" stroke-width="0.7"/>
<text x="294.7" y="129.16" font-size="9.25">3.0</text>
<path d="M288.7 108.44 h3" stroke="#000" stroke-width="0.7"/>
<text x="294.7" y="112.24" font-size="9.25">3.6</text>
<path d="M288.7 91.53 h3" stroke="#000" stroke-width="0.7"/>
<text x="294.7" y="95.33" font-size="9.25">4.3</text>
<path d="M288.7 74.62 h3" stroke="#000" stroke-width="0.7"/>
<text x="294.7" y="78.42" font-size="9.25">4.9</text>
<path d="M288.7 57.71 h3" stroke="#000" stroke-width="0.7"/>
<text x="294.7" y="61.51" font-size="9.25">5.6</text>
<path d="M288.7 40.80 h3" stroke="#000" stroke-width="0.7"/>
<text x="294.7" y="44.60" font-size="9.25">6.3</text>
<text transform="translate(323.4 117.60000000000001) rotate(-90)" text-anchor="middle" font-size="9.25">[°C]</text></g>
</svg>
</body></html>
